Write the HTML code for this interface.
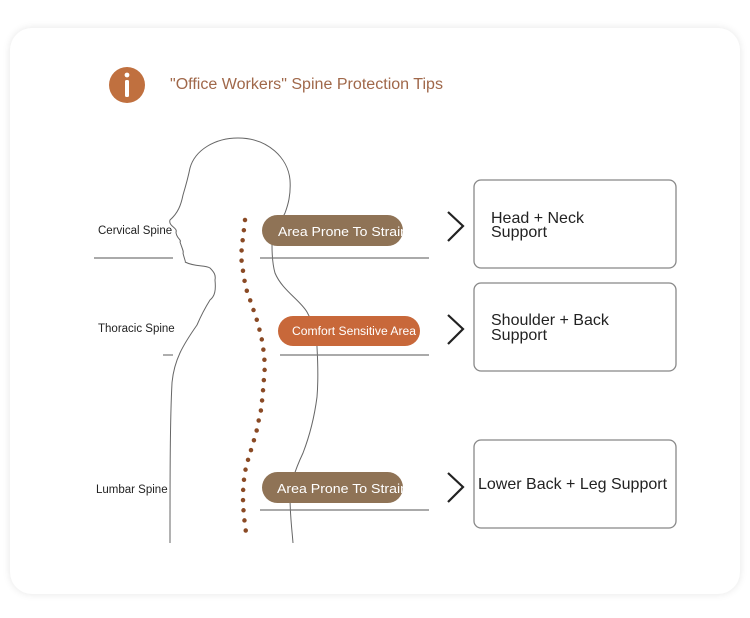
<!DOCTYPE html>
<html><head><meta charset="utf-8"><style>
html,body{margin:0;padding:0;background:#fff;}
body{width:750px;height:618px;position:relative;overflow:hidden;font-family:"Liberation Sans",sans-serif;}
.card{position:absolute;left:10px;top:28px;width:730px;height:566px;border-radius:22px;background:#fff;box-shadow:0 0 8px rgba(0,0,0,0.10);}
svg{position:absolute;left:0;top:0;}
</style></head><body>
<div class="card"></div>
<svg width="750" height="618" viewBox="0 0 750 618" xmlns="http://www.w3.org/2000/svg" font-family="Liberation Sans, sans-serif">
<defs>
<clipPath id="c1"><rect x="262" y="215" width="141" height="31" rx="15.5"/></clipPath>
<clipPath id="c3"><rect x="262" y="472" width="141" height="31" rx="15.5"/></clipPath>
</defs>
<!-- header -->
<circle cx="127" cy="85" r="18" fill="#c0703f"/>
<circle cx="127" cy="75" r="2.4" fill="#fff"/>
<rect x="125" y="80" width="4" height="17" rx="1.5" fill="#fff"/>
<text x="170" y="89" font-size="15.5" fill="#a0684a" textLength="273" lengthAdjust="spacingAndGlyphs">"Office Workers" Spine Protection Tips</text>
<!-- body outline -->
<path d="M170,543 C170,480 170,420 172,383 C174,360 183,345 197,325 C200,318 205,308 210,300 C215,296 216,290 215,280 C216,275 214,272 210,268 C205,265 195,267 185,262 C186,262 184,258 183,253 C184,252 182,248 180,242 C182,240 176,238 176,232 C178,228 168,226 170,220 C178,213 181,205 183,195 C186,185 188,178 190,168 C195,150 215,138 238,138 C268,138 288,158 290,180 C291,195 288,205 285,213 C280,223 273,233 272,245 C272,258 273,266 275,273 C282,290 300,300 307,312 C314,325 317,335 317,347 C318,365 318,385 317,397 C314,420 308,440 303,453 C295,470 290,485 290,497 C290,515 292,530 293,543" fill="none" stroke="#666" stroke-width="1"/>
<!-- spine dots -->
<path d="M245,220 C243,240 240,255 242,263 C244,280 246,290 249,297 C252,305 254,312 256,317 C259,328 262,338 263,347 C265,360 265,370 264,378 C263,392 262,402 261,410 C258,422 257,432 254,440 C251,450 249,457 247,463 C244,475 243,487 243,497 C243,512 245,525 247,540" fill="none" stroke="#8a4a25" stroke-width="4.5" stroke-linecap="round" stroke-dasharray="0 10.2"/>
<!-- labels left -->
<text x="98" y="234" font-size="11.5" fill="#222">Cervical Spine</text>
<text x="98" y="332" font-size="11.5" fill="#222">Thoracic Spine</text>
<text x="96" y="493" font-size="11.5" fill="#222">Lumbar Spine</text>
<!-- lines -->
<g stroke="#777" stroke-width="1.2">
<line x1="94" y1="258" x2="173" y2="258"/><line x1="260" y1="258" x2="429" y2="258"/>
<line x1="163" y1="355" x2="173" y2="355"/><line x1="280" y1="355" x2="429" y2="355"/>
<line x1="260" y1="510" x2="429" y2="510"/>
</g>
<!-- pills -->
<rect x="262" y="215" width="141" height="31" rx="15.5" fill="#8f7356"/>
<text x="278" y="236" font-size="13" fill="#fff" clip-path="url(#c1)" textLength="130" lengthAdjust="spacingAndGlyphs">Area Prone To Strain</text>
<rect x="278" y="316" width="142" height="30" rx="15" fill="#c8683a"/>
<text x="292" y="335" font-size="11.5" fill="#fff" textLength="124" lengthAdjust="spacingAndGlyphs">Comfort Sensitive Area</text>
<rect x="262" y="472" width="141" height="31" rx="15.5" fill="#8f7356"/>
<text x="277" y="493" font-size="13" fill="#fff" clip-path="url(#c3)" textLength="131" lengthAdjust="spacingAndGlyphs">Area Prone To Strain</text>
<!-- chevrons -->
<g fill="none" stroke="#222" stroke-width="2.2">
<polyline points="448,212 463,226 448,241"/>
<polyline points="448,315 463,329 448,344"/>
<polyline points="448,473 463,487 448,502"/>
</g>
<!-- boxes -->
<g fill="#fff" stroke="#888" stroke-width="1.3">
<rect x="474" y="180" width="202" height="88" rx="7"/>
<rect x="474" y="283" width="202" height="88" rx="7"/>
<rect x="474" y="440" width="202" height="88" rx="7"/>
</g>
<g font-size="16" fill="#222">
<text x="491" y="223">Head + Neck</text><text x="491" y="237">Support</text>
<text x="491" y="325">Shoulder + Back</text><text x="491" y="340">Support</text>
<text x="478" y="489">Lower Back + Leg Support</text>
</g>
</svg>
</body></html>
